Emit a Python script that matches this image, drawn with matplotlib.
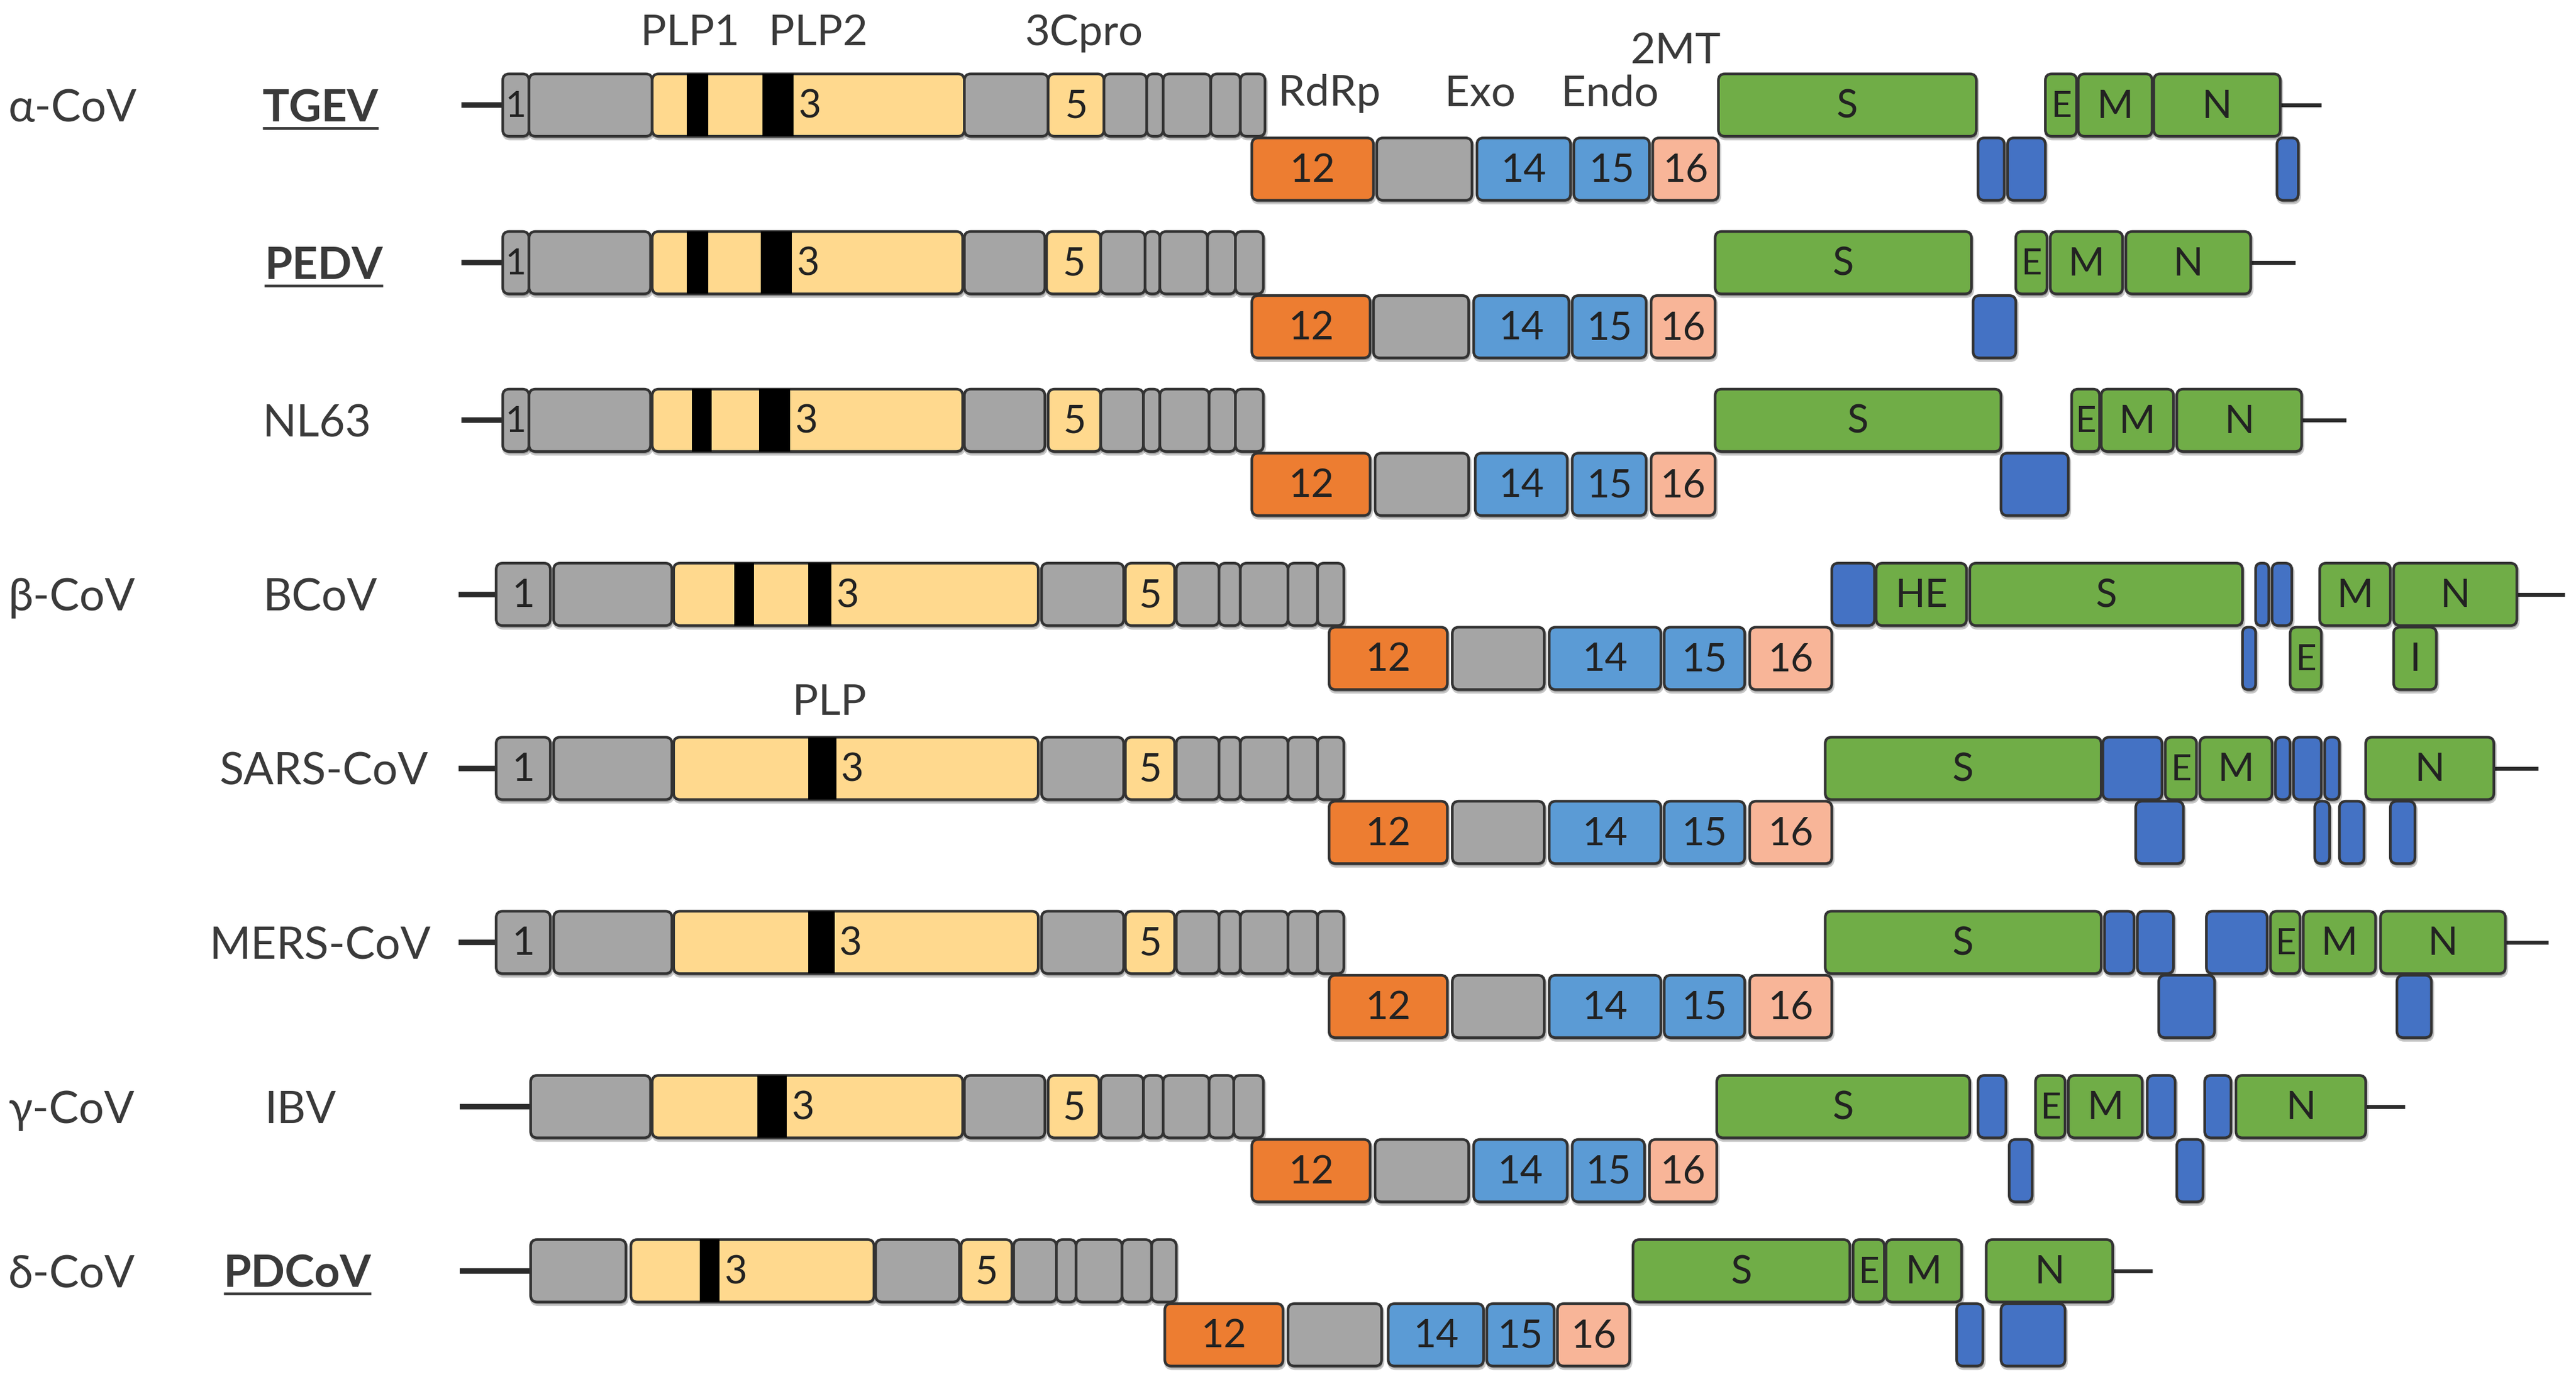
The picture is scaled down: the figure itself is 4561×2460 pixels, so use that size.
import matplotlib
matplotlib.use('Agg')
import matplotlib.pyplot as plt
from matplotlib.patches import FancyBboxPatch, Rectangle

# ---------------- data (schematic genome coordinates) -------------
GENOME_NAMES = ['TGEV', 'PEDV', 'NL63', 'BCoV', 'SARS-CoV', 'MERS-CoV', 'IBV', 'PDCoV']
NAME_X = [195, 197, 193, 195, 197, 195, 183, 181]
NAME_BOLD = [True, True, False, False, False, False, False, True]
ROW_Y = [64, 160, 256, 362, 468, 574, 674, 774]

GROUP_LABELS = ['α-CoV', 'β-CoV', 'γ-CoV', 'δ-CoV']
GROUP_ROWS = [0, 3, 6, 7]

# (start, end, level 0=upper/1=lower, kind, label)
TGEV_seg = [
    (306, 322, 0, 'grey', '1'), (322, 397, 0, 'grey', ''), (397, 587, 0, 'yellow', '3'),
    (587, 638, 0, 'grey', ''), (638, 672, 0, 'yellow', '5'),
    (672, 698, 0, 'grey', ''), (698, 708, 0, 'grey', ''), (708, 737, 0, 'grey', ''),
    (737, 755, 0, 'grey', ''), (755, 770, 0, 'grey', ''),
    (762, 836, 1, 'orange', '12'), (838, 896, 1, 'grey', ''), (899, 956, 1, 'blue', '14'),
    (958, 1004, 1, 'blue', '15'), (1006, 1046, 1, 'salmon', '16'),
    (1046, 1203, 0, 'green', 'S'), (1204, 1220, 1, 'dblue', ''), (1222, 1245, 1, 'dblue', ''),
    (1245, 1264, 0, 'green', 'E'), (1265, 1310, 0, 'green', 'M'), (1311, 1388, 0, 'green', 'N'),
    (1386, 1399, 1, 'dblue', ''),
]
TGEV_bars = [(418, 431), (464, 483)]
TGEV_ends = [281, 306, 1388, 1413]

PEDV_seg = [
    (306, 322, 0, 'grey', '1'), (322, 396, 0, 'grey', ''), (397, 586, 0, 'yellow', '3'),
    (587, 636, 0, 'grey', ''), (637, 670, 0, 'yellow', '5'),
    (670, 697, 0, 'grey', ''), (697, 706, 0, 'grey', ''), (706, 735, 0, 'grey', ''),
    (735, 752, 0, 'grey', ''), (752, 769, 0, 'grey', ''),
    (762, 834, 1, 'orange', '12'), (836, 894, 1, 'grey', ''), (897, 955, 1, 'blue', '14'),
    (957, 1002, 1, 'blue', '15'), (1005, 1044, 1, 'salmon', '16'),
    (1044, 1200, 0, 'green', 'S'), (1201, 1227, 1, 'dblue', ''),
    (1227, 1246, 0, 'green', 'E'), (1248, 1292, 0, 'green', 'M'), (1294, 1370, 0, 'green', 'N'),
]
PEDV_bars = [(418, 431), (463, 482)]
PEDV_ends = [281, 306, 1370, 1397]

NL63_seg = [
    (306, 322, 0, 'grey', '1'), (322, 396, 0, 'grey', ''), (397, 586, 0, 'yellow', '3'),
    (587, 636, 0, 'grey', ''), (638, 670, 0, 'yellow', '5'),
    (670, 696, 0, 'grey', ''), (696, 706, 0, 'grey', ''), (706, 736, 0, 'grey', ''),
    (736, 752, 0, 'grey', ''), (752, 769, 0, 'grey', ''),
    (762, 834, 1, 'orange', '12'), (837, 894, 1, 'grey', ''), (898, 954, 1, 'blue', '14'),
    (957, 1002, 1, 'blue', '15'), (1005, 1044, 1, 'salmon', '16'),
    (1044, 1218, 0, 'green', 'S'), (1218, 1259, 1, 'dblue', ''),
    (1261, 1278, 0, 'green', 'E'), (1279, 1323, 0, 'green', 'M'), (1325, 1401, 0, 'green', 'N'),
]
NL63_bars = [(421, 433), (462, 481)]
NL63_ends = [281, 306, 1401, 1428]

BCoV_seg = [
    (302, 335, 0, 'grey', '1'), (337, 409, 0, 'grey', ''), (410, 632, 0, 'yellow', '3'),
    (634, 684, 0, 'grey', ''), (685, 715, 0, 'yellow', '5'),
    (716, 742, 0, 'grey', ''), (742, 755, 0, 'grey', ''), (755, 784, 0, 'grey', ''),
    (784, 802, 0, 'grey', ''), (802, 818, 0, 'grey', ''),
    (809, 881, 1, 'orange', '12'), (884, 940, 1, 'grey', ''), (943, 1011, 1, 'blue', '14'),
    (1013, 1062, 1, 'blue', '15'), (1065, 1115, 1, 'salmon', '16'),
    (1115, 1141, 0, 'dblue', ''), (1142, 1197, 0, 'green', 'HE'), (1199, 1365, 0, 'green', 'S'),
    (1365, 1373, 1, 'dblue', ''), (1373, 1381, 0, 'dblue', ''), (1383, 1395, 0, 'dblue', ''),
    (1394, 1413, 1, 'green', 'E'), (1412, 1455, 0, 'green', 'M'), (1457, 1532, 0, 'green', 'N'),
    (1457, 1483, 1, 'green', 'I'),
]
BCoV_bars = [(447, 459), (492, 506)]
BCoV_ends = [279, 302, 1532, 1561]

SARS_seg = [
    (302, 335, 0, 'grey', '1'), (337, 409, 0, 'grey', ''), (410, 632, 0, 'yellow', '3'),
    (634, 684, 0, 'grey', ''), (685, 715, 0, 'yellow', '5'),
    (716, 742, 0, 'grey', ''), (742, 755, 0, 'grey', ''), (755, 784, 0, 'grey', ''),
    (784, 802, 0, 'grey', ''), (802, 818, 0, 'grey', ''),
    (809, 881, 1, 'orange', '12'), (884, 940, 1, 'grey', ''), (943, 1011, 1, 'blue', '14'),
    (1013, 1062, 1, 'blue', '15'), (1065, 1115, 1, 'salmon', '16'),
    (1111, 1279, 0, 'green', 'S'), (1280, 1316, 0, 'dblue', ''), (1300, 1329, 1, 'dblue', ''),
    (1318, 1337, 0, 'green', 'E'), (1339, 1383, 0, 'green', 'M'),
    (1385, 1394, 0, 'dblue', ''), (1396, 1413, 0, 'dblue', ''), (1415, 1424, 0, 'dblue', ''),
    (1409, 1418, 1, 'dblue', ''), (1424, 1439, 1, 'dblue', ''), (1455, 1470, 1, 'dblue', ''),
    (1440, 1518, 0, 'green', 'N'),
]
SARS_bars = [(492, 509)]
SARS_ends = [279, 302, 1518, 1545]

MERS_seg = [
    (302, 335, 0, 'grey', '1'), (337, 409, 0, 'grey', ''), (410, 632, 0, 'yellow', '3'),
    (634, 684, 0, 'grey', ''), (685, 715, 0, 'yellow', '5'),
    (716, 742, 0, 'grey', ''), (742, 755, 0, 'grey', ''), (755, 784, 0, 'grey', ''),
    (784, 802, 0, 'grey', ''), (802, 818, 0, 'grey', ''),
    (809, 881, 1, 'orange', '12'), (884, 940, 1, 'grey', ''), (943, 1011, 1, 'blue', '14'),
    (1013, 1062, 1, 'blue', '15'), (1065, 1115, 1, 'salmon', '16'),
    (1111, 1279, 0, 'green', 'S'), (1281, 1299, 0, 'dblue', ''), (1301, 1323, 0, 'dblue', ''),
    (1314, 1348, 1, 'dblue', ''), (1343, 1380, 0, 'dblue', ''),
    (1382, 1400, 0, 'green', 'E'), (1402, 1446, 0, 'green', 'M'), (1449, 1525, 0, 'green', 'N'),
    (1459, 1480, 1, 'dblue', ''),
]
MERS_bars = [(492, 508)]
MERS_ends = [279, 302, 1525, 1551]

IBV_seg = [
    (323, 396, 0, 'grey', ''), (397, 586, 0, 'yellow', '3'),
    (587, 636, 0, 'grey', ''), (638, 669, 0, 'yellow', '5'),
    (670, 696, 0, 'grey', ''), (696, 708, 0, 'grey', ''), (708, 736, 0, 'grey', ''),
    (736, 751, 0, 'grey', ''), (751, 769, 0, 'grey', ''),
    (762, 834, 1, 'orange', '12'), (837, 894, 1, 'grey', ''), (897, 954, 1, 'blue', '14'),
    (957, 1001, 1, 'blue', '15'), (1004, 1045, 1, 'salmon', '16'),
    (1045, 1199, 0, 'green', 'S'), (1204, 1221, 0, 'dblue', ''), (1223, 1237, 1, 'dblue', ''),
    (1239, 1257, 0, 'green', 'E'), (1259, 1304, 0, 'green', 'M'),
    (1307, 1324, 0, 'dblue', ''), (1325, 1341, 1, 'dblue', ''), (1342, 1358, 0, 'dblue', ''),
    (1361, 1440, 0, 'green', 'N'),
]
IBV_bars = [(461, 479)]
IBV_ends = [280, 323, 1440, 1464]

PDCoV_seg = [
    (323, 381, 0, 'grey', ''), (384, 532, 0, 'yellow', '3'),
    (533, 584, 0, 'grey', ''), (585, 616, 0, 'yellow', '5'),
    (617, 643, 0, 'grey', ''), (643, 655, 0, 'grey', ''), (655, 683, 0, 'grey', ''),
    (683, 701, 0, 'grey', ''), (701, 716, 0, 'grey', ''),
    (709, 781, 1, 'orange', '12'), (784, 841, 1, 'grey', ''), (845, 903, 1, 'blue', '14'),
    (905, 946, 1, 'blue', '15'), (948, 992, 1, 'salmon', '16'),
    (994, 1126, 0, 'green', 'S'), (1128, 1147, 0, 'green', 'E'), (1148, 1194, 0, 'green', 'M'),
    (1209, 1286, 0, 'green', 'N'), (1191, 1207, 1, 'dblue', ''), (1218, 1257, 1, 'dblue', ''),
]
PDCoV_bars = [(426, 438)]
PDCoV_ends = [280, 323, 1286, 1310]

ALL_SEG = [TGEV_seg, PEDV_seg, NL63_seg, BCoV_seg, SARS_seg, MERS_seg, IBV_seg, PDCoV_seg]
ALL_BARS = [TGEV_bars, PEDV_bars, NL63_bars, BCoV_bars, SARS_bars, MERS_bars, IBV_bars, PDCoV_bars]
ALL_ENDS = [TGEV_ends, PEDV_ends, NL63_ends, BCoV_ends, SARS_ends, MERS_ends, IBV_ends, PDCoV_ends]

# domain annotations: text, x, y
ANNOT_TEXT = ['PLP1', 'PLP2', '3Cpro', 'RdRp', 'Exo', 'Endo', '2MT', 'PLP']
ANNOT_X = [420, 498, 660, 809, 901, 980, 1020, 505]
ANNOT_Y = [20, 20, 20, 57, 57, 57, 31, 428]

# ---------------- style ----------------
COLORS = {
    'grey': '#A5A5A5', 'yellow': '#FFD98E', 'orange': '#ED7D31', 'blue': '#5B9BD5',
    'salmon': '#F8B598', 'green': '#70AD47', 'dblue': '#4472C4',
}
FONT = ['Lato', 'DejaVu Sans']
TXT = '#3a3a3a'
EDGE = '#333333'
BOX_H = 38
LOW_OFF = 39

W, H = 1568, 846
fig = plt.figure(figsize=(45.61, 24.60), dpi=100)
ax = fig.add_axes([0, 0, 1, 1])
ax.set_xlim(0, W)
ax.set_ylim(H, 0)
ax.axis('off')


def draw_box(x0, x1, y0, y1, color):
    w = x1 - x0
    h = y1 - y0
    r = max(0.5, min(4.0, w / 2 - 0.5, h / 2))
    # soft drop shadow
    sh = FancyBboxPatch((x0 + 0.6, y0 + 1.4), w, h, boxstyle=f"round,pad=0,rounding_size={r}",
                        fc='#000000', ec='#000000', lw=4.5, alpha=0.22, zorder=2.5)
    ax.add_patch(sh)
    p = FancyBboxPatch((x0, y0), w, h, boxstyle=f"round,pad=0,rounding_size={r}",
                       fc=color, ec=EDGE, lw=3.4, zorder=3)
    ax.add_patch(p)


for i, name in enumerate(GENOME_NAMES):
    yc = ROW_Y[i]
    segs = ALL_SEG[i]
    bars = ALL_BARS[i]
    ends = ALL_ENDS[i]
    # terminal lines
    ax.plot([ends[0], ends[1]], [yc, yc], color='#2b2b2b', lw=7, solid_capstyle='butt', zorder=2)
    ax.plot([ends[2], ends[3]], [yc, yc], color='#2b2b2b', lw=5, solid_capstyle='butt', zorder=2)
    for (x0, x1, lev, kind, lab) in segs:
        y0 = yc - BOX_H / 2 + lev * LOW_OFF
        draw_box(x0, x1, y0, y0 + BOX_H, COLORS[kind])
        if lab:
            w = x1 - x0
            fs = 50 if w > 22 else 46
            if lab == '3':
                tx = bars[-1][1] + 3
                ha = 'left'
            else:
                tx = (x0 + x1) / 2
                ha = 'center'
            ax.text(tx, y0 + BOX_H / 2 + 1, lab, ha=ha, va='center', fontsize=fs,
                    color='#222222', family=FONT, zorder=5)
    for (b0, b1) in bars:
        y0 = yc - BOX_H / 2
        ax.add_patch(Rectangle((b0, y0), b1 - b0, BOX_H, fc='black', ec='none', zorder=4))

# genome names
fig.canvas.draw()
renderer = fig.canvas.get_renderer()
inv = ax.transData.inverted()
for i, name in enumerate(GENOME_NAMES):
    yc = ROW_Y[i]
    t = ax.text(NAME_X[i], yc + 10, name, ha='center', va='baseline', fontsize=57,
                fontweight='bold' if NAME_BOLD[i] else 'normal', color=TXT, family=FONT)
    if NAME_BOLD[i]:
        bb = t.get_window_extent(renderer)
        (xa, _), (xb, _) = inv.transform([[bb.x0, bb.y0], [bb.x1, bb.y1]])
        ax.plot([xa, xb], [yc + 14, yc + 14], color=TXT, lw=3.5, solid_capstyle='butt')

for lab, r in zip(GROUP_LABELS, GROUP_ROWS):
    ax.text(5, ROW_Y[r] + 10, lab, ha='left', va='baseline', fontsize=57, color=TXT, family=FONT)

for txt, x, y in zip(ANNOT_TEXT, ANNOT_X, ANNOT_Y):
    ax.text(x, y, txt, ha='center', va='center', fontsize=55, color=TXT, family=FONT)

fig.savefig('out.png', dpi=100, facecolor='white')
